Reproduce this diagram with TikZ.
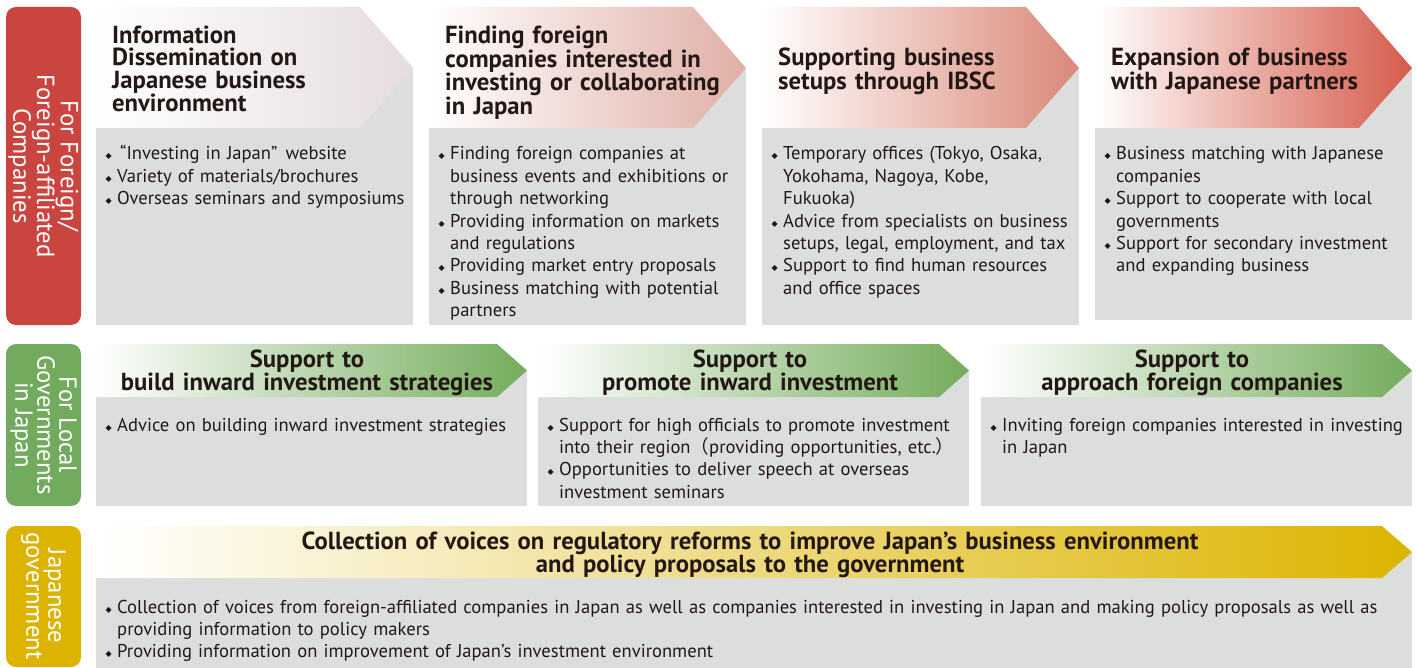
\documentclass[tikz,border=0pt]{standalone}
\usepackage{fontspec}
\setmainfont{PT Sans}
\newfontfamily\cjk{Noto Sans CJK JP}
\newfontfamily\symf{DejaVu Sans}
\definecolor{txt}{HTML}{231815}
\definecolor{graybg}{HTML}{DCDDDD}
\definecolor{lred}{HTML}{CB4540}
\definecolor{lgreen}{HTML}{72AB5E}
\definecolor{lyellow}{HTML}{DBB300}
\definecolor{hA}{HTML}{E5DCE0}
\definecolor{hB}{HTML}{E0AFA6}
\definecolor{hC}{HTML}{DA8878}
\definecolor{hD}{HTML}{D55B4A}
\definecolor{hG}{HTML}{74AC5C}
\definecolor{hY}{HTML}{DCB400}
\newlength\calw
\newcommand\bfirst{\hangindent=12pt\hangafter=1\hbox to 12pt{\kern0.5pt\symf\fontsize{8}{8}\selectfont\raisebox{1pt}{◆}\hss}}
\newcommand\bi{\par\noindent\bfirst}
\tikzset{
  body/.style={anchor=base west, text width=440pt, align=left, inner sep=0pt, font=\bodyfont, text=txt},
  hdl/.style={anchor=base west, text width=330pt, align=left, inner sep=0pt, font=\headfont, text=txt},
  hdc/.style={anchor=base, text width=1000pt, align=center, inner sep=0pt, font=\headfont, text=txt},
  side/.style={rotate=-90, align=center, inner sep=0pt, font=\sidefont, text=white},
  labelbox/.style={rounded corners=10pt},
}
\AtBeginDocument{%
\settowidth\calw{\normalfont\fontsize{10}{10}\selectfont Collection of voices from foreign-affiliated companies in Japan as well as companies interested in investing in Japan and making policy proposals as well as}%
\pgfmathsetmacro\bs{10*1232/\the\calw}%
\settowidth\calw{\normalfont\bfseries\fontsize{10}{10}\selectfont Collection of voices on regulatory reforms to improve Japan’s business environment}%
\pgfmathsetmacro\hs{10*877/\the\calw}%
\settowidth\calw{\normalfont\fontsize{10}{10}\selectfont Foreign-affiliated}%
\pgfmathsetmacro\ss{10*183/\the\calw}%
\xdef\bs{\bs}\xdef\hs{\hs}\xdef\ss{\ss}%
}
\newcommand\bodyfont{\fontsize{\bs pt}{22.4pt}\selectfont}
\newcommand\headfont{\bfseries\fontsize{\hs pt}{22.4pt}\selectfont}
\newcommand\sidefont{\fontsize{\ss pt}{22pt}\selectfont}
\begin{document}
\begin{tikzpicture}[x=1pt,y=-1pt]
\useasboundingbox (0,0) rectangle (1416,668);

% side labels
\fill[lred, labelbox] (6,7) rectangle (81,325);
\fill[lgreen, labelbox] (6,344) rectangle (81,506);
\fill[lyellow, labelbox] (6,526) rectangle (81,667);
\node[side] (s1) at (43.5,166) {For Foreign/\\Foreign-affiliated\\Companies};
\node[side] (s2) at (43.5,425) {For Local\\Governments\\in Japan};
\node[side] (s3) at (43.5,596) {Japanese\\government};

% top row
\fill[graybg] (96,68) rectangle (413,325);
\fill[graybg] (429,68) rectangle (746,325);
\fill[graybg] (762,68) rectangle (1079,325);
\fill[graybg] (1095,68) rectangle (1412,320);
\shade[left color=white, right color=hA] (96,7) -- (360,7) -- (413,68) -- (360,128) -- (96,128) -- cycle;
\shade[left color=white, right color=hB] (429,7) -- (693,7) -- (746,68) -- (693,128) -- (429,128) -- cycle;
\shade[left color=white, right color=hC] (762,7) -- (1026,7) -- (1079,68) -- (1026,128) -- (762,128) -- cycle;
\shade[left color=white, right color=hD] (1095,7) -- (1359,7) -- (1412,68) -- (1359,128) -- (1095,128) -- cycle;
\node[hdl] (h1) at (112,43.5) {Information\\Dissemination on\\Japanese business\\environment};
\node[hdl] (h2) at (445,43.5) {Finding foreign\\companies interested in\\investing or collaborating\\in Japan};
\node[hdl] (h3) at (778,65.8) {Supporting business\\setups through IBSC};
\node[hdl] (h4) at (1111,65.8) {Expansion of business\\with Japanese partners};
\node[body] (b1) at (105,160) {\bfirst\kern3pt“Investing in Japan”\kern2pt{} website\bi Variety of materials/brochures\bi Overseas seminars and symposiums\par};
\node[body] (b2) at (438,160) {\bfirst Finding foreign companies at\newline business events and exhibitions or\newline through networking\bi Providing information on markets\newline and regulations\bi Providing market entry proposals\bi Business matching with potential\newline partners\par};
\node[body] (b3) at (771,160) {\bfirst Temporary offices (Tokyo, Osaka,\newline Yokohama, Nagoya, Kobe,\newline Fukuoka)\bi Advice from specialists on business\newline setups, legal, employment, and tax\bi Support to find human resources\newline and office spaces\par};
\node[body] (b4) at (1104,160) {\bfirst Business matching with Japanese\newline companies\bi Support to cooperate with local\newline governments\bi Support for secondary investment\newline and expanding business\par};

% middle row
\fill[graybg] (96,370) rectangle (527,506);
\fill[graybg] (538,370) rectangle (969,506);
\fill[graybg] (981,370) rectangle (1412,506);
\shade[left color=white, right color=hG] (96,344) -- (497,344) -- (527,370.5) -- (497,397) -- (96,397) -- cycle;
\shade[left color=white, right color=hG] (538,344) -- (939,344) -- (969,370.5) -- (939,397) -- (538,397) -- cycle;
\shade[left color=white, right color=hG] (981,344) -- (1382,344) -- (1412,370.5) -- (1382,397) -- (981,397) -- cycle;
\node[hdc] (g1) at (307,367) {Support to\\build inward investment strategies};
\node[hdc] (g2) at (750,367) {Support to\\promote inward investment};
\node[hdc] (g3) at (1192,367) {Support to\\approach foreign companies};
\node[body] (m1) at (105,431) {\bfirst Advice on building inward investment strategies\par};
\node[body] (m2) at (547,431) {\bfirst Support for high officials to promote investment\newline into their region{\cjk （}providing opportunities, etc.{\cjk ）}\bi Opportunities to deliver speech at overseas\newline investment seminars\par};
\node[body] (m3) at (990,431) {\bfirst Inviting foreign companies interested in investing\newline in Japan\par};

% bottom row
\fill[graybg] (96,552) rectangle (1412,668);
\shade[left color=white, right color=hY] (96,526) -- (1382,526) -- (1412,552) -- (1382,578) -- (96,578) -- cycle;
\node[hdc] (y1) at (750,549) {Collection of voices on regulatory reforms to improve Japan’s business environment\\and policy proposals to the government};
\node[body, text width=1300pt] (n1) at (105,613) {\bfirst Collection of voices from foreign-affiliated companies in Japan as well as companies interested in investing in Japan and making policy proposals as well as\newline providing information to policy makers\bi Providing information on improvement of Japan’s investment environment\par};
\end{tikzpicture}
\end{document}
